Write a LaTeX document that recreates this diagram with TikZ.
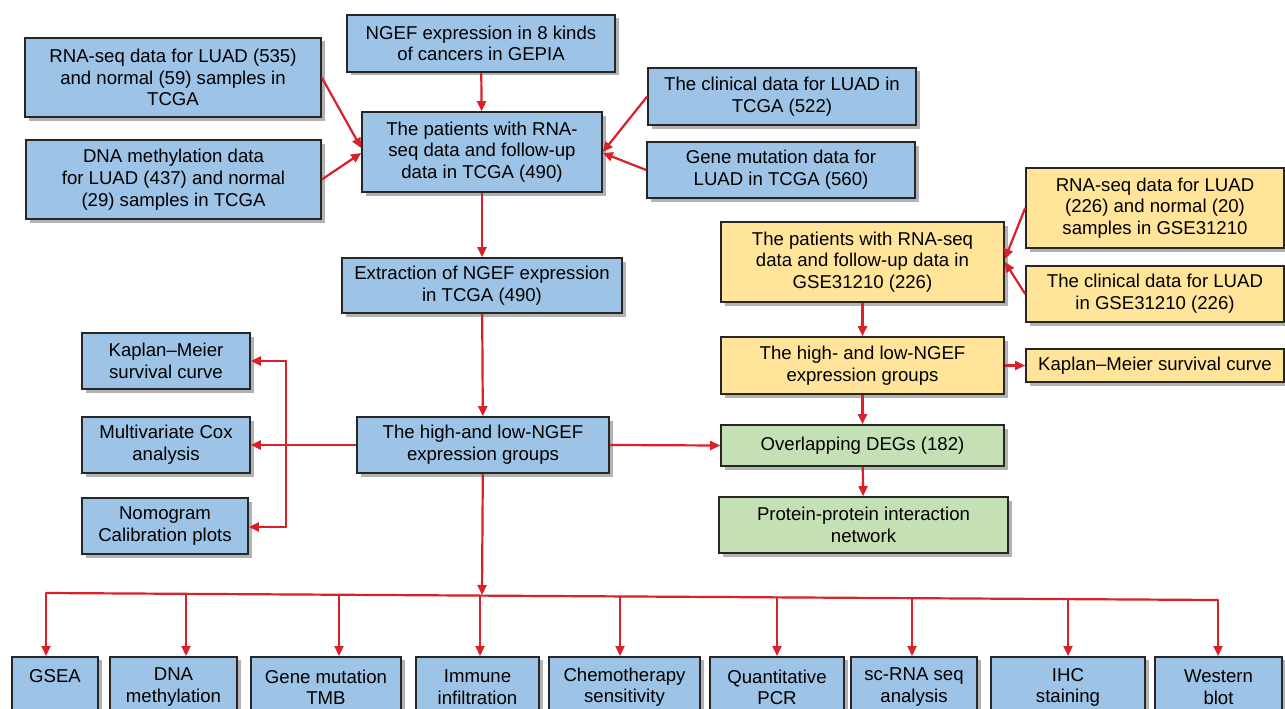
\documentclass[tikz,border=0pt]{standalone}
\usepackage{fontspec}
\setmainfont{Liberation Sans}
\usetikzlibrary{arrows.meta,shadows}
\definecolor{bblue}{RGB}{157,195,230}
\definecolor{byellow}{RGB}{255,228,153}
\definecolor{bgreen}{RGB}{197,224,180}
\definecolor{ared}{RGB}{218,32,40}
\begin{document}
\begin{tikzpicture}[x=1pt,y=-1pt,
  box/.style={draw=black!85, line width=1.6pt, align=center, inner sep=0pt,
    font=\fontsize{18.6}{21.7}\selectfont,
    drop shadow={shadow xshift=3.5pt, shadow yshift=-3.5pt, fill=black!50, opacity=0.6}},
  bl/.style={box, fill=bblue},
  yl/.style={box, fill=byellow},
  gr/.style={box, fill=bgreen},
  arr/.style={draw=ared, line width=2.2pt, -{Triangle[length=10pt,width=9pt]}},
  ln/.style={draw=ared, line width=2.2pt}]
\fill[white] (0,0) rectangle (1285,709);
\useasboundingbox (0,0) rectangle (1285,709);

% top TCGA part
\node[bl, minimum width=268pt, minimum height=57pt] (ngef) at (481,43.5) {NGEF expression in 8 kinds\\of cancers in GEPIA};
\node[bl, minimum width=296pt, minimum height=79pt] (rnaT) at (173,77.5) {RNA-seq data for LUAD (535)\\and normal (59) samples in\\TCGA};
\node[bl, minimum width=295pt, minimum height=79pt] (dnaT) at (173.5,179.5) {DNA methylation data\\for LUAD (437) and normal\\(29) samples in TCGA};
\node[bl, minimum width=240pt, minimum height=80pt] (patT) at (482,152) {The patients with RNA-\\seq data and follow-up\\data in TCGA (490)};
\node[bl, minimum width=268pt, minimum height=57pt] (clinT) at (782,96.5) {The clinical data for LUAD in\\TCGA (522)};
\node[bl, minimum width=268pt, minimum height=56pt] (mutT) at (781,170) {Gene mutation data for\\LUAD in TCGA (560)};
\node[bl, minimum width=280pt, minimum height=55pt] (extr) at (482,285.5) {Extraction of NGEF expression\\in TCGA (490)};

% GSE part
\node[yl, minimum width=283pt, minimum height=80pt] (patG) at (862.5,262) {The patients with RNA-seq\\data and follow-up data in\\GSE31210 (226)};
\node[yl, minimum width=258pt, minimum height=80pt] (rnaG) at (1155,208) {RNA-seq data for LUAD\\(226) and normal (20)\\samples in GSE31210};
\node[yl, minimum width=258pt, minimum height=56pt] (clinG) at (1155,294) {The clinical data for LUAD\\in GSE31210 (226)};
\node[yl, minimum width=283pt, minimum height=57pt] (hlG) at (862.5,365.5) {The high- and low-NGEF\\expression groups};
\node[yl, minimum width=258pt, minimum height=33pt] (kmG) at (1155,365.5) {Kaplan–Meier survival curve};
\node[gr, minimum width=283pt, minimum height=41pt] (ovl) at (862.5,445.5) {Overlapping DEGs (182)};
\node[gr, minimum width=289pt, minimum height=56pt] (ppi) at (863.5,525) {Protein-protein interaction\\network};

% middle left
\node[bl, minimum width=252pt, minimum height=56pt] (hlT) at (483,445) {The high-and low-NGEF\\expression groups};
\node[bl, minimum width=168pt, minimum height=56pt] (km) at (166,361) {Kaplan–Meier\\survival curve};
\node[bl, minimum width=168pt, minimum height=56pt] (cox) at (166,445) {Multivariate Cox\\analysis};
\node[bl, minimum width=166pt, minimum height=56pt] (nomo) at (165,526) {Nomogram\\Calibration plots};

% bottom row
\node[bl, anchor=north, minimum width=86pt, minimum height=61pt] (b1) at (55,656) {GSEA\\\phantom{X}};
\node[bl, anchor=north, minimum width=127pt, minimum height=61pt] (b2) at (173.5,656) {DNA\\methylation};
\node[bl, anchor=north, minimum width=150pt, minimum height=61pt] (b3) at (326,656) {Gene mutation\\TMB};
\node[bl, anchor=north, minimum width=123pt, minimum height=61pt] (b4) at (477.5,656) {Immune\\infiltration};
\node[bl, anchor=north, minimum width=151pt, minimum height=61pt] (b5) at (624.5,656) {Chemotherapy\\sensitivity};
\node[bl, anchor=north, minimum width=134pt, minimum height=61pt] (b6) at (777,656) {Quantitative\\PCR};
\node[bl, anchor=north, minimum width=126pt, minimum height=61pt] (b7) at (914,656) {sc-RNA seq\\analysis};
\node[bl, anchor=north, minimum width=154pt, minimum height=61pt] (b8) at (1068,656) {IHC\\staining};
\node[bl, anchor=north, minimum width=127pt, minimum height=61pt] (b9) at (1218.5,656) {Western\\blot};

% connectors top
\draw[arr] (ngef) -- (patT);
\draw[arr] (rnaT.east) -- ([yshift=4pt]patT.west);
\draw[arr] (dnaT.east) -- ([yshift=-1pt]patT.west);
\draw[arr] (clinT.west) -- (patT.east);
\draw[arr] (mutT.west) -- ([yshift=-1pt]patT.east);
\draw[arr] (patT) -- (extr);
\draw[arr] (extr) -- (hlT);

% GSE connectors
\draw[arr] (rnaG.west) -- ([yshift=3pt]patG.east);
\draw[arr] (clinG.west) -- (patG.east);
\draw[arr] (patG) -- (hlG);
\draw[arr] (hlG) -- (kmG);
\draw[arr] (hlG) -- (ovl);
\draw[arr] (ovl) -- (ppi);
\draw[arr] (hlT.east) -- (ovl.west);

% left bracket
\coordinate (bt) at (286,361);
\coordinate (bb) at (286,527);
\draw[ln, line cap=round] (bt) -- (bb);
\draw[arr] (bt) -- (km.east);
\draw[arr] (bb) -- (bb -| nomo.east);
\draw[arr] (hlT.west) -- (cox.east);

% bottom bus
\coordinate (bj) at (482,595);
\coordinate (d1) at (46,593);
\coordinate (d2) at (186,594);
\coordinate (d3) at (339,594);
\coordinate (d4) at (480,595);
\coordinate (d5) at (620,596);
\coordinate (d6) at (777,597);
\coordinate (d7) at (912,598);
\coordinate (d8) at (1068,599);
\coordinate (d9) at (1218,600);
\draw[arr] (hlT) -- (bj);
\draw[ln, line cap=round] (d1) -- (d9);
\foreach \i in {1,...,9} {\draw[arr] (d\i) -- (d\i |- b\i.north);}
\end{tikzpicture}
\end{document}
